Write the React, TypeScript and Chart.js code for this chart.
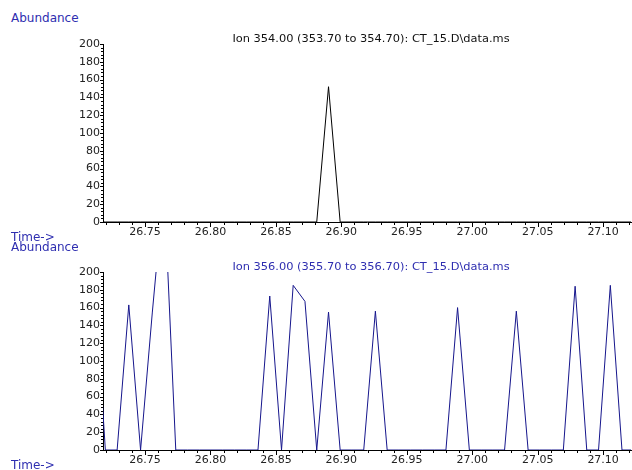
import { useEffect, useRef } from "react";
import { Chart, registerables } from "chart.js";

Chart.register(...registerables);

// Retention time of each scan (min)
const scanTimes = [
  26.7107, 26.7197, 26.7287, 26.7376, 26.7466, 26.7556, 26.7645, 26.7735,
  26.7825, 26.7915, 26.8004, 26.8094, 26.8184, 26.8273, 26.8363, 26.8453,
  26.8543, 26.8632, 26.8722, 26.8812, 26.8902, 26.8991, 26.9081, 26.9171,
  26.926, 26.935, 26.944, 26.953, 26.9619, 26.9709, 26.9799, 26.9888,
  26.9978, 27.0068, 27.0158, 27.0247, 27.0337, 27.0427, 27.0516, 27.0606,
  27.0696, 27.0786, 27.0875, 27.0965, 27.1055, 27.1144, 27.1234,
];

// Extracted ion abundance, m/z 354
const ion354 = [
  0, 0, 0, 0, 0, 0, 0, 0,
  0, 0, 0, 0, 0, 0, 0, 0,
  0, 0, 0, 0, 152, 0, 0, 0,
  0, 0, 0, 0, 0, 0, 0, 0,
  0, 0, 0, 0, 0, 0, 0, 0,
  0, 0, 0, 0, 0, 0, 0,
];

// Extracted ion abundance, m/z 356
const ion356 = [
  210, 0, 0, 163, 0, 155, 297, 0,
  0, 0, 0, 0, 0, 0, 0, 173,
  0, 185, 167, 0, 155, 0, 0, 0,
  156, 0, 0, 0, 0, 0, 0, 160,
  0, 0, 0, 0, 156, 0, 0, 0,
  0, 184, 0, 0, 185, 0, 0,
];

const timeMin = 26.7179;
const timeMax = 27.1213;
const timeStep = 0.05;
const timeMinorStep = 0.01;
const abundanceMax = 200;
const abundanceStep = 20;
const abundanceMinorStep = 4;

const title354 = "Ion 354.00 (353.70 to 354.70): CT_15.D\\data.ms";
const title356 = "Ion 356.00 (355.70 to 356.70): CT_15.D\\data.ms";

const BLUE_TEXT = "#2e2eb0";
const NAVY_LINE = "#16168c";
const TICK_FONT = { family: "'DejaVu Sans', sans-serif", size: 11 };

// Minor/major tick marks along both axes plus the ion title above the plot
const axisDecor = {
  id: "axisDecor",
  afterDraw(chart: any, _args: any, opts: any) {
    const { ctx, chartArea, scales } = chart;
    const xs = scales.x;
    const ys = scales.y;
    ctx.save();
    ctx.strokeStyle = "#000";
    ctx.lineWidth = 1;
    ctx.beginPath();
    const first = Math.ceil(timeMin / timeMinorStep - 1e-6);
    for (let k = first; k * timeMinorStep <= timeMax + 1e-9; k++) {
      const px = Math.round(xs.getPixelForValue(k * timeMinorStep)) + 0.5;
      const major = k % 5 === 0;
      ctx.moveTo(px, chartArea.bottom);
      ctx.lineTo(px, chartArea.bottom + (major ? 5 : 3));
    }
    for (let v = 0; v <= abundanceMax; v += abundanceMinorStep) {
      const py = Math.round(ys.getPixelForValue(v)) + 0.5;
      const major = v % abundanceStep === 0;
      ctx.moveTo(chartArea.left, py);
      ctx.lineTo(chartArea.left - (major ? 3 : 2), py);
    }
    ctx.stroke();

    // ion title, slightly widened
    const cx = (chartArea.left + chartArea.right) / 2 + 4;
    const stretch = 1.14;
    ctx.translate(cx, chartArea.top - 2);
    ctx.scale(stretch, 1);
    ctx.font = "10px 'DejaVu Sans', sans-serif";
    ctx.fillStyle = opts.color;
    ctx.textAlign = "center";
    ctx.textBaseline = "alphabetic";
    ctx.fillText(opts.text, 0, 0);
    ctx.restore();
  },
};

type IonPlotProps = {
  values: number[];
  lineColor: string;
  title: string;
  titleColor: string;
  top: number;
  height: number;
  plotTop: number;
  plotBottom: number;
};

function IonPlot({ values, lineColor, title, titleColor, top, height, plotTop, plotBottom }: IonPlotProps) {
  const ref = useRef<HTMLCanvasElement | null>(null);

  useEffect(() => {
    if (!ref.current) return;
    const points = scanTimes.map((t, i) => ({ x: t, y: values[i] }));
    const chart = new Chart(ref.current, {
      type: "line",
      data: {
        datasets: [
          {
            data: points,
            borderColor: lineColor,
            borderWidth: 1,
            pointRadius: 0,
            tension: 0,
            fill: false,
          },
        ],
      },
      options: {
        responsive: false,
        animation: false,
        events: [],
        layout: { padding: { top: plotTop, left: 0, right: 1, bottom: 0 } },
        plugins: {
          legend: { display: false },
          tooltip: { enabled: false },
          title: { display: false },
          axisDecor: { text: title, color: titleColor },
        } as any,
        scales: {
          x: {
            type: "linear",
            min: timeMin,
            max: timeMax,
            grid: { display: false, drawTicks: false },
            border: { display: true, color: "#000", width: 1 },
            ticks: {
              stepSize: timeStep,
              includeBounds: false,
              autoSkip: false,
              maxRotation: 0,
              padding: 4,
              color: "#222",
              font: TICK_FONT,
              callback: (v: any) => Number(v).toFixed(2),
            },
            afterFit: (scale: any) => {
              scale.height = height - plotBottom;
            },
          },
          y: {
            type: "linear",
            min: 0,
            max: abundanceMax,
            grid: { display: false, drawTicks: false },
            border: { display: true, color: "#000", width: 1 },
            ticks: {
              stepSize: abundanceStep,
              padding: 3,
              color: "#222",
              font: TICK_FONT,
            },
            afterFit: (scale: any) => {
              scale.width = 103;
            },
          },
        },
      },
      plugins: [axisDecor],
    });
    return () => chart.destroy();
  }, [values, lineColor, title, titleColor, height, plotTop, plotBottom]);

  return (
    <canvas
      ref={ref}
      width={632}
      height={height}
      style={{ position: "absolute", left: 0, top, width: 632, height }}
    />
  );
}

const labelStyle = {
  position: "absolute" as const,
  left: 11,
  fontFamily: "'DejaVu Sans', sans-serif",
  fontSize: 12,
  lineHeight: "12px",
  color: BLUE_TEXT,
  whiteSpace: "pre" as const,
};

export default function App() {
  return (
    <div
      style={{
        position: "absolute",
        left: 0,
        top: 0,
        width: 632,
        height: 470,
        background: "#fff",
        overflow: "hidden",
      }}
    >
      <div style={{ ...labelStyle, top: 12 }}>Abundance</div>
      <IonPlot
        values={ion354}
        lineColor="#000"
        title={title354}
        titleColor="#111"
        top={0}
        height={244}
        plotTop={44}
        plotBottom={222}
      />
      <div style={{ ...labelStyle, top: 231 }}>{"Time->"}</div>
      <div style={{ ...labelStyle, top: 241 }}>Abundance</div>
      <IonPlot
        values={ion356}
        lineColor={NAVY_LINE}
        title={title356}
        titleColor={BLUE_TEXT}
        top={240}
        height={230}
        plotTop={32}
        plotBottom={210}
      />
      <div style={{ ...labelStyle, top: 459 }}>{"Time->"}</div>
    </div>
  );
}
